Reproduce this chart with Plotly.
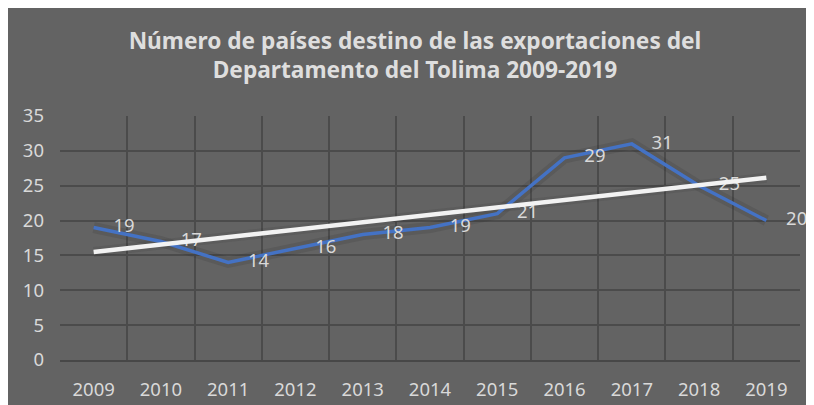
import numpy as np
import plotly.graph_objects as go

years = ["2009", "2010", "2011", "2012", "2013", "2014", "2015", "2016", "2017", "2018", "2019"]
paises = [19, 17, 14, 16, 18, 19, 21, 29, 31, 25, 20]
y_ticks = [0, 5, 10, 15, 20, 25, 30, 35]

x = np.arange(len(years))
# linear trend line (like Excel's "Lineal" trendline)
slope, intercept = np.polyfit(x, paises, 1)
trend = slope * x + intercept

bg = "#636363"
grid = "#4b4b4b"
txt = "#d9d9d9"

fig = go.Figure()

# soft shadow under the lines
fig.add_trace(go.Scatter(x=x, y=paises, mode="lines", line=dict(color="rgba(40,40,40,0.15)", width=11),
                         hoverinfo="skip", showlegend=False))
fig.add_trace(go.Scatter(x=x, y=trend, mode="lines", line=dict(color="rgba(40,40,40,0.12)", width=10),
                         hoverinfo="skip", showlegend=False))

fig.add_trace(go.Scatter(x=x, y=paises, mode="lines+markers+text", text=[str(v) for v in paises],
                         textposition="middle right", textfont=dict(color=txt, size=18.5, family="Noto Sans"),
                         marker=dict(size=30, opacity=0), cliponaxis=False,
                         line=dict(color="#4472C4", width=3.5), name="Países", showlegend=False))
fig.add_trace(go.Scatter(x=[x[0], x[-1]], y=[trend[0], trend[-1]], mode="lines",
                         line=dict(color="#f2f2f2", width=4.5), name="Lineal", showlegend=False))

fig.update_layout(
    width=814, height=405,
    paper_bgcolor=bg, plot_bgcolor=bg,
    margin=dict(l=52, r=22, t=108, b=50),
    title=dict(text="<b>Número de países destino de las exportaciones del<br>Departamento del Tolima 2009-2019</b>",
               x=0.5, xanchor="center", y=0.9, yanchor="middle",
               font=dict(family="Noto Sans", size=22.7, color="#dedede")),
    font=dict(family="Noto Sans", color=txt, size=18),
    xaxis=dict(range=[-0.5, 10.5], tickvals=list(x), ticktext=years, showgrid=False,
               zeroline=False, showline=True, linecolor="#474747", linewidth=1.5,
               ticks="", ticklabelstandoff=12, tickfont=dict(size=18.5, color=txt),
               minor=dict(tickvals=list(np.arange(-0.5, 11, 1.0)), showgrid=True, gridcolor=grid, gridwidth=1.5)),
    yaxis=dict(range=[0, 35], tickvals=y_ticks, showgrid=True, gridcolor=grid, gridwidth=1.5,
               zeroline=False, showline=False, ticks="", ticklabelstandoff=15,
               tickfont=dict(size=18.5, color=txt)),
)

fig.write_html("out.html")
